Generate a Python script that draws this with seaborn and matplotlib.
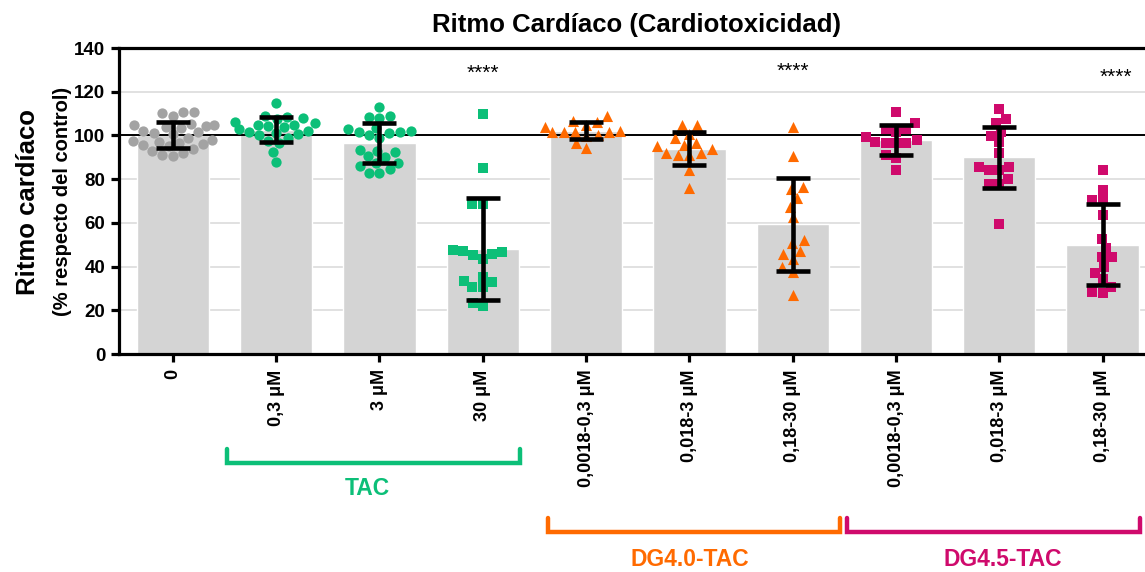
import numpy as np
import pandas as pd
import matplotlib
matplotlib.use("Agg")
import matplotlib.pyplot as plt
import matplotlib.transforms as mtransforms
import seaborn as sns

sns.set_theme(style="white")
plt.rcParams['font.family'] = ['Liberation Sans', 'DejaVu Sans']
plt.rcParams['font.weight'] = 'bold'
plt.rcParams['text.color'] = 'black'
plt.rcParams['xtick.color'] = 'black'
plt.rcParams['ytick.color'] = 'black'
plt.rcParams['axes.labelcolor'] = 'black'

# ---- data -----------------------------------------------------------------
categories = ["ctrl", "tac_03", "tac_3", "tac_30",
              "dg40_03", "dg40_3", "dg40_30",
              "dg45_03", "dg45_3", "dg45_30"]
tick_labels = ["0", "0,3 μM", "3 μM", "30 μM",
               "0,0018-0,3 μM", "0,018-3 μM", "0,18-30 μM",
               "0,0018-0,3 μM", "0,018-3 μM", "0,18-30 μM"]

ctrl = [110.9, 110.1, 110.6, 108.9, 105.2, 105.0, 104.8, 104.5, 104.0, 103.5,
        102.0, 101.5, 101.0, 100.5, 99.0, 98.0, 97.5, 97.0, 96.5, 96.0,
        95.5, 95.0, 94.0, 93.0, 92.0, 91.0, 90.6]
tac_03 = [115.0, 109.0, 108.5, 108.0, 107.5, 106.0, 105.5, 105.0, 105.0, 104.5,
          104.0, 103.0, 102.0, 101.5, 101.0, 100.5, 100.0, 99.0, 97.5, 96.5,
          92.5, 88.0]
tac_3 = [113.2, 108.5, 108.2, 109.0, 103.0, 102.0, 101.0, 99.0, 100.0, 101.5,
         101.5, 103.5, 93.5, 92.5, 90.0, 93.0, 90.5, 87.5, 86.0, 87.5,
         84.5, 83.0, 83.0]
tac_30 = [110.0, 85.2, 68.6, 68.6, 47.1, 45.6, 43.5, 45.3, 46.5, 47.6,
          33.5, 30.8, 30.8, 32.8, 35.4, 22.1, 23.2]
dg40_03 = [106.7, 104.8, 108.9, 106.3, 100.2, 101.7, 101.7, 101.7, 101.7,
           102.1, 99.7, 94.1, 96.4, 104.0]
dg40_3 = [104.8, 104.8, 100.9, 98.7, 95.6, 93.7, 95.0, 96.6, 91.0, 92.0,
          92.2, 91.0, 84.2, 75.8]
dg40_30 = [103.7, 90.6, 76.6, 75.5, 71.2, 67.4, 62.5, 50.9, 52.1, 46.0,
           47.3, 43.3, 39.7, 37.6, 27.0]
dg45_03 = [110.9, 102.9, 102.9, 105.5, 101.7, 99.4, 96.7, 96.4, 97.9, 96.4,
           97.1, 91.0, 89.5, 84.2]
dg45_3 = [111.9, 107.5, 105.5, 101.4, 99.7, 96.8, 92.2, 85.7, 84.2, 84.2,
          85.7, 80.0, 77.6, 78.0, 59.5]
dg45_30 = [84.2, 75.0, 70.4, 70.4, 63.6, 52.5, 48.3, 44.2, 44.5, 39.7,
           37.2, 34.2, 30.8, 28.0, 28.5]

series = [ctrl, tac_03, tac_3, tac_30, dg40_03, dg40_3, dg40_30,
          dg45_03, dg45_3, dg45_30]

sig_categories = ["tac_30", "dg40_30", "dg45_30"]
sig_text = "****"

group_names = ["TAC", "DG4.0-TAC", "DG4.5-TAC"]

# ---- styling --------------------------------------------------------------
GRAY_PT = "#a3a3a3"
GREEN = "#0cbf78"
ORANGE = "#ff6a00"
MAGENTA = "#cf0a6c"
BAR = "#d4d4d4"

point_color = {"ctrl": GRAY_PT, "tac_03": GREEN, "tac_3": GREEN, "tac_30": GREEN,
               "dg40_03": ORANGE, "dg40_3": ORANGE, "dg40_30": ORANGE,
               "dg45_03": MAGENTA, "dg45_3": MAGENTA, "dg45_30": MAGENTA}
point_marker = {"ctrl": "o", "tac_03": "o", "tac_3": "o", "tac_30": "s",
                "dg40_03": "^", "dg40_3": "^", "dg40_30": "^",
                "dg45_03": "s", "dg45_3": "s", "dg45_30": "s"}
marker_size = {"o": 7.4, "s": 7.2, "^": 8.0}
group_colors = [GREEN, ORANGE, MAGENTA]

df = pd.DataFrame({
    "grupo": np.repeat(categories, [len(s) for s in series]),
    "ritmo": np.concatenate(series),
})
stats = df.groupby("grupo", sort=False)["ritmo"].agg(["mean", "std"]).reindex(categories)

# ---- figure ---------------------------------------------------------------
fig = plt.figure(figsize=(11.45, 5.72), dpi=100)
ax = fig.add_axes([0.104, 0.381, 0.896, 0.535])

sns.barplot(data=df, x="grupo", y="ritmo", order=categories, color=BAR,
            width=0.7, errorbar=None, saturation=1, ax=ax, zorder=1)

for cat in categories:
    m = point_marker[cat]
    sns.swarmplot(data=df[df["grupo"] == cat], x="grupo", y="ritmo",
                  order=categories, color=point_color[cat],
                  marker=m, size=marker_size[m], linewidth=0,
                  ax=ax, zorder=3, warn_thresh=1)

ax.axhline(100, color="black", lw=1.4, zorder=2)

ax.errorbar(np.arange(len(categories)), stats["mean"], yerr=stats["std"],
            fmt="none", ecolor="black", elinewidth=3.3, capsize=12.5,
            capthick=3.3, zorder=4)

for cat, y, dx in zip(sig_categories, [128.5, 129.5, 126.5], [0, 0, 0.13]):
    ax.text(categories.index(cat) + dx, y, sig_text, ha="center", va="center",
            fontsize=15, fontweight="normal", color="black")

ax.set_xlim(-0.52, 9.41)
ax.set_ylim(0, 140)
ax.set_yticks(np.arange(0, 141, 20))
ax.yaxis.grid(True, color="#dedede", lw=1.3)
ax.set_axisbelow(True)
ax.set_xlabel("")
ax.set_ylabel("")
ax.set_xticks(range(len(categories)))
ax.set_xticklabels(tick_labels, rotation=90, fontsize=13, fontweight="bold",
                   color="black")
for lbl in ax.get_yticklabels():
    lbl.set_fontsize(13.5)
    lbl.set_fontweight("bold")
    lbl.set_color("black")

for side in ["left", "bottom", "top"]:
    ax.spines[side].set_visible(True)
    ax.spines[side].set_color("black")
    ax.spines[side].set_linewidth(2.3)
ax.spines["right"].set_visible(False)
ax.tick_params(axis="both", which="major", direction="out", length=6,
               width=2.3, color="black", left=True, bottom=True, pad=4)
ax.tick_params(axis="x", pad=5)

# group brackets below the tick labels
trans = mtransforms.blended_transform_factory(ax.transData, fig.transFigure)
bracket_spans = [(0.52, 3.36), (3.63, 6.46), (6.53, 9.36)]
bracket_y = [(0.1906, 0.215), (0.070, 0.0944), (0.070, 0.0944)]
label_pos = [(1.88, 0.146), (5.0, 0.022), (8.03, 0.022)]
for name, col, (x0, x1), (yb, yt), (lx, ly) in zip(
        group_names, group_colors, bracket_spans, bracket_y, label_pos):
    ax.plot([x0, x0, x1, x1], [yt, yb, yb, yt], color=col, lw=3.2,
            transform=trans, clip_on=False, solid_joinstyle="miter")
    ax.text(lx, ly, name, transform=trans, ha="center", va="center",
            color=col, fontsize=16.5, fontweight="bold")

fig.text(0.556, 0.957, "Ritmo Cardíaco (Cardiotoxicidad)", ha="center",
         va="center", fontsize=18.5, fontweight="bold", color="black")
fig.text(0.0245, 0.647, "Ritmo cardíaco", rotation=90, ha="center",
         va="center", fontsize=18.5, fontweight="bold", color="black")
fig.text(0.055, 0.648, "(% respecto del control)", rotation=90, ha="center",
         va="center", fontsize=14.5, fontweight="bold", color="black")

fig.savefig("out.png", dpi=100)
